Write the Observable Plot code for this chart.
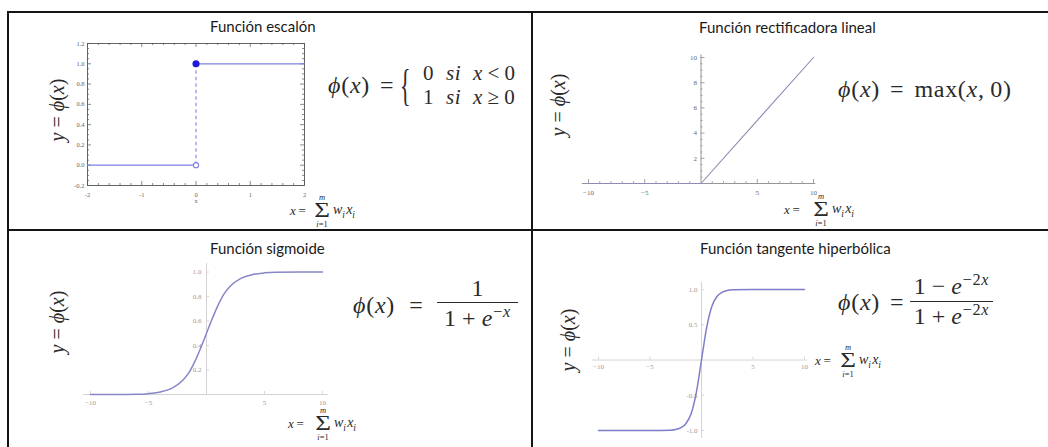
<!DOCTYPE html>
<html><head><meta charset="utf-8">
<script src="https://cdn.jsdelivr.net/npm/d3@7"></script>
<script src="https://cdn.jsdelivr.net/npm/@observablehq/plot@0.6"></script>
<style>
html,body{margin:0;padding:0;background:#fff;}
#root{position:relative;width:1048px;height:447px;overflow:hidden;background:#fff;}
.bd{position:absolute;background:#151515;}
.t{position:absolute;font-family:Lato,"Open Sans",sans-serif;font-size:15px;color:#1a1a1a;white-space:nowrap;line-height:1;}
.m{position:absolute;font-family:"Liberation Serif","DejaVu Serif",serif;color:#2a2a2a;white-space:nowrap;line-height:1;}
.m i{font-style:italic;}
.m sub,.m sup{font-size:0.68em;line-height:0;}
.m sub{margin-right:0.12em;}
.f{letter-spacing:0.03em;}
.op{margin:0 0.42em;}
.opw{margin:0 0.6em;}
.pl{margin:0 0.22em;}
#root svg{position:absolute;}
</style></head>
<body><div id="root">
<div class="bd" style="left:7px;top:11px;width:1041px;height:2px"></div>
<div class="bd" style="left:7px;top:11px;width:2px;height:436px"></div>
<div class="bd" style="left:531px;top:11px;width:2px;height:436px"></div>
<div class="bd" style="left:7px;top:229px;width:1041px;height:2px"></div>
</div>
<script>
// ---------- data ----------
const titles = ["Función escalón", "Función rectificadora lineal", "Función sigmoide", "Función tangente hiperbólica"];

// step function
const stepLowX = [-2, 0], stepLowY = [0, 0];
const stepHighX = [0, 2], stepHighY = [1, 1];
const stepXTicks = [-2, -1, 0, 1, 2];
const stepYTicks = [-0.2, 0, 0.2, 0.4, 0.6, 0.8, 1.0, 1.2];
const stepXLabel = "x";

// rectifier (ReLU)
const reluX = [-10, 0, 10], reluY = [0, 0, 10];
const reluXTicks = [-10, -5, 5, 10];
const reluYTicks = [2, 4, 6, 8, 10];

// sigmoid
const sigX = [-10, -8, -6, -5, -4, -3, -2, -1.5, -1, -0.5, 0, 0.5, 1, 1.5, 2, 3, 4, 5, 6, 8, 10];
const sigY = [0, 0, 0.002, 0.007, 0.02, 0.05, 0.12, 0.18, 0.27, 0.38, 0.5, 0.62, 0.73, 0.82, 0.88, 0.95, 0.98, 0.993, 0.998, 1, 1];
const sigXTicks = [-10, -5, 5, 10];
const sigYTicks = [0.2, 0.4, 0.6, 0.8, 1.0];

// hyperbolic tangent
const tanhX = [-10, -5, -3, -2.5, -2, -1.5, -1, -0.5, 0, 0.5, 1, 1.5, 2, 2.5, 3, 5, 10];
const tanhY = [-1, -1, -0.995, -0.987, -0.96, -0.9, -0.76, -0.46, 0, 0.46, 0.76, 0.9, 0.96, 0.987, 0.995, 1, 1];
const tanhXTicks = [-10, -5, 5, 10];
const tanhYTicks = [-1.0, -0.5, 0.5, 1.0];
const tanhYLabels = ["-1.0", "-0.5", "0.5", "1.0"];

// ---------- helpers ----------
const root = document.getElementById("root");
const FF = "Liberation Serif, DejaVu Serif, serif";
const fmtNum = d => (d < 0 ? "\u2212" + (-d) : String(d));

function put(html, x, y, {size = 21, anchor = "start", extra = "", cls = "m", lh = null} = {}) {
  const d = document.createElement("div");
  d.className = cls;
  d.innerHTML = html;
  d.style.left = x + "px";
  d.style.top = y + "px";
  d.style.fontSize = size + "px";
  if (lh) d.style.lineHeight = lh;
  const tx = anchor === "middle" ? "-50%" : anchor === "end" ? "-100%" : "0";
  d.style.transform = `translate(${tx},-50%) ${extra}`;
  root.appendChild(d);
  return d;
}
function title(text, x, baseline) {
  const d = document.createElement("div");
  d.className = "t";
  d.textContent = text;
  d.style.left = x + "px";
  d.style.top = (baseline - 13.3) + "px";
  root.appendChild(d);
}
function ylab(x, y) {
  put(`<i>y</i> = <i>&#981;</i>(<i>x</i>)`, x, y, {size: 20, anchor: "middle", extra: "rotate(-90deg)"});
}
function bar(x, y, w) {
  const b = document.createElement("div");
  b.className = "bd";
  Object.assign(b.style, {left: x + "px", top: y + "px", width: w + "px", height: "1.2px", background: "#2a2a2a"});
  root.appendChild(b);
}
function sum(xLeft, cy, sx) {
  put(`<i>x</i>&thinsp;=`, xLeft, cy, {size: 13});
  put(`&Sigma;`, sx, cy, {size: 20, anchor: "middle", extra: "scale(1.35,1.05)", lh: 0.62});
  put(`<i>m</i>`, sx, cy - 13.5, {size: 8.5, anchor: "middle"});
  put(`<i>i</i>=1`, sx, cy + 13.5, {size: 8.5, anchor: "middle"});
  put(`<i>w<sub>i</sub>x<sub>i</sub></i>`, sx + 11, cy, {size: 14});
}
const lin = (a, p, v) => p[0] + (v - a[0]) * (p[1] - p[0]) / (a[1] - a[0]);
function scales(c) {
  return {
    kx: (c.xp[1] - c.xp[0]) / (c.xa[1] - c.xa[0]),
    ky: (c.yp[0] - c.yp[1]) / (c.ya[1] - c.ya[0])
  };
}
function mk(box, c, marks) {
  const x0 = lin(c.xa, c.xp, c.xd[0]), x1 = lin(c.xa, c.xp, c.xd[1]);
  const yb = lin(c.ya, c.yp, c.yd[0]), yt = lin(c.ya, c.yp, c.yd[1]);
  const svg = Plot.plot({
    width: box.w, height: box.h,
    marginLeft: x0 - box.x, marginRight: box.x + box.w - x1,
    marginTop: yt - box.y, marginBottom: box.y + box.h - yb,
    x: {domain: c.xd, axis: null},
    y: {domain: c.yd, axis: null},
    style: {background: "transparent", overflow: "visible"},
    marks
  });
  svg.style.left = box.x + "px";
  svg.style.top = box.y + "px";
  root.appendChild(svg);
}

// ---------- panel 1 : step ----------
{
  const c = {xd: [-2, 2], xa: [-2, 2], xp: [87, 304], yd: [-0.2, 1.2], ya: [-0.2, 1.2], yp: [185, 43]};
  const {kx, ky} = scales(c);
  const [X0, X1] = c.xd, [Y0, Y1] = c.yd;
  const fc = "#555";
  const minX = d3.range(-20, 21, 2).map(v => v / 10).filter(v => !stepXTicks.includes(v));
  const minY = d3.range(-4, 25, 1).map(v => v / 20).filter(v => !stepYTicks.some(t => Math.abs(t - v) < 1e-9));
  const tkx = (vals, len) => [
    Plot.ruleX(vals, {x: d => d, y1: Y0, y2: Y0 + len / ky, stroke: fc, strokeWidth: 0.7}),
    Plot.ruleX(vals, {x: d => d, y1: Y1, y2: Y1 - len / ky, stroke: fc, strokeWidth: 0.7})
  ];
  const tky = (vals, len) => [
    Plot.ruleY(vals, {y: d => d, x1: X0, x2: X0 + len / kx, stroke: fc, strokeWidth: 0.7}),
    Plot.ruleY(vals, {y: d => d, x1: X1, x2: X1 - len / kx, stroke: fc, strokeWidth: 0.7})
  ];
  const C = "#8080e2", CD = "#1c1cd8";
  mk({x: 40, y: 33, w: 285, h: 180}, c, [
    Plot.frame({stroke: fc, strokeWidth: 0.9}),
    ...tkx(stepXTicks, 4), ...tkx(minX, 2), ...tky(stepYTicks, 4), ...tky(minY, 2),
    Plot.text(stepXTicks, {x: d => d, y: Y0, dy: 9, text: d => String(d), fontSize: 6.5, fill: "#666", fontFamily: FF}),
    Plot.text([stepXLabel], {x: 0, y: Y0, dy: 15, text: d => d, fontSize: 6.5, fill: "#666", fontFamily: FF}),
    Plot.text(stepYTicks, {x: X0, y: d => d, dx: -3, textAnchor: "end", text: d => d.toFixed(1), fontSize: 6.5, fill: "#666", fontFamily: FF}),
    Plot.lineY(stepLowY, {x: stepLowX, stroke: C, strokeWidth: 1.2}),
    Plot.lineY(stepHighY, {x: stepHighX, stroke: C, strokeWidth: 1.2}),
    Plot.ruleX([stepLowX[1]], {y1: stepLowY[1], y2: stepHighY[0], stroke: C, strokeWidth: 1.1, strokeDasharray: "3.5,3"}),
    Plot.dot([stepLowY[1]], {x: [stepLowX[1]], y: d => d, r: 2.6, fill: "white", stroke: C, strokeWidth: 1.1}),
    Plot.dot([stepHighY[0]], {x: [stepHighX[0]], y: d => d, r: 2.8, fill: CD, stroke: CD})
  ]);
  title(titles[0], 210, 32);
  ylab(57, 110);
  put(`<span class="f"><i>&#981;</i>(<i>x</i>)<span class="op">=</span></span>`, 328, 85, {size: 24});
  put(`{`, 400, 86, {size: 22, extra: "scale(1,2.05)"});
  put(`<span class="f">0&nbsp;&nbsp;<i>si</i>&nbsp;&nbsp;<i>x</i><span class="pl">&lt;</span>0</span>`, 423, 73, {size: 21});
  put(`<span class="f">1&nbsp;&nbsp;<i>si</i>&nbsp;&nbsp;<i>x</i><span class="pl">&ge;</span>0</span>`, 423, 97, {size: 21});
  sum(290, 210, 322);
}

// ---------- panel 2 : ReLU ----------
{
  const c = {xd: [-10.55, 10.2], xa: [-10, 10], xp: [588, 813], yd: [0, 10.2], ya: [0, 10], yp: [183, 57]};
  const {kx, ky} = scales(c);
  const ac = "#8a8a8a";
  const minX = d3.range(-10, 11, 1).filter(v => v !== 0 && !reluXTicks.includes(v));
  const minY = d3.range(1, 21, 1).map(v => v / 2).filter(v => !reluYTicks.includes(v));
  mk({x: 565, y: 45, w: 265, h: 160}, c, [
    Plot.ruleY([0], {stroke: ac, strokeWidth: 0.9}),
    Plot.ruleX([0], {stroke: ac, strokeWidth: 0.9}),
    Plot.ruleX(reluXTicks, {x: d => d, y1: 0, y2: 4 / ky, stroke: ac, strokeWidth: 0.8}),
    Plot.ruleX(minX, {x: d => d, y1: 0, y2: 2 / ky, stroke: ac, strokeWidth: 0.7}),
    Plot.ruleY(reluYTicks, {y: d => d, x1: 0, x2: 4 / kx, stroke: ac, strokeWidth: 0.8}),
    Plot.ruleY(minY, {y: d => d, x1: 0, x2: 2 / kx, stroke: ac, strokeWidth: 0.7}),
    Plot.text(reluXTicks, {x: d => d, y: 0, dy: 9, text: fmtNum, fontSize: 7, fill: "#666", fontFamily: FF}),
    Plot.text(reluYTicks, {x: 0, y: d => d, dx: -4, textAnchor: "end", text: fmtNum, fontSize: 7, fill: "#666", fontFamily: FF}),
    Plot.lineY(reluY, {x: reluX, stroke: "#8c8cb4", strokeWidth: 1.1})
  ]);
  title(titles[1], 699, 33);
  ylab(558, 105);
  put(`<span class="f"><i>&#981;</i>(<i>x</i>)<span class="op">=</span>max(<i>x</i>,&thinsp;0)</span>`, 838, 89, {size: 24});
  sum(784, 209, 821);
}

// ---------- panel 3 : sigmoid ----------
{
  const c = {xd: [-10.6, 10.5], xa: [-10, 10], xp: [90, 322], yd: [0, 1.07], ya: [0, 1], yp: [394, 271.5]};
  const {kx, ky} = scales(c);
  const ac = "#cfcfcf";
  mk({x: 60, y: 255, w: 290, h: 165}, c, [
    Plot.ruleY([0], {stroke: ac, strokeWidth: 0.9}),
    Plot.ruleX([0], {stroke: ac, strokeWidth: 0.9}),
    Plot.ruleX(sigXTicks, {x: d => d, y1: 0, y2: 3 / ky, stroke: ac, strokeWidth: 0.8}),
    Plot.ruleY(sigYTicks, {y: d => d, x1: 0, x2: 3 / kx, stroke: ac, strokeWidth: 0.8}),
    Plot.text(sigXTicks, {x: d => d, y: 0, dy: 8, text: fmtNum, fontSize: 7, fill: "#9a9a9a", fontFamily: FF}),
    Plot.text(sigYTicks, {x: 0, y: d => d, dx: -5, textAnchor: "end", text: d => d.toFixed(1), fontSize: 7, fill: "#9a9a9a", fontFamily: FF}),
    Plot.lineY(sigY, {x: sigX, curve: "monotone-x", stroke: "#8686c8", strokeWidth: 1.5})
  ]);
  title(titles[2], 210, 254);
  ylab(57, 322);
  put(`<span class="f"><i>&#981;</i>(<i>x</i>)<span class="opw">=</span></span>`, 353, 305, {size: 24});
  put(`1`, 477.5, 288, {size: 24, anchor: "middle"});
  put(`<span class="f">1<span class="pl">+</span><i>e</i><sup>&minus;<i>x</i></sup></span>`, 477.5, 318, {size: 24, anchor: "middle"});
  bar(437, 301.5, 81);
  sum(288, 423, 323);
}

// ---------- panel 4 : tanh ----------
{
  const c = {xd: [-10.6, 10.3], xa: [-10, 10], xp: [598, 804], yd: [-1.11, 1.1], ya: [-1, 1], yp: [430, 289]};
  const {kx, ky} = scales(c);
  const ac = "#cfcfcf";
  mk({x: 580, y: 272, w: 240, h: 175}, c, [
    Plot.ruleY([0], {stroke: ac, strokeWidth: 0.9}),
    Plot.ruleX([0], {stroke: ac, strokeWidth: 0.9}),
    Plot.ruleX(tanhXTicks, {x: d => d, y1: 0, y2: 3 / ky, stroke: ac, strokeWidth: 0.8}),
    Plot.ruleY(tanhYTicks, {y: d => d, x1: 0, x2: 3 / kx, stroke: ac, strokeWidth: 0.8}),
    Plot.text(tanhXTicks, {x: d => d, y: 0, dy: 7, text: fmtNum, fontSize: 7, fill: "#9a9a9a", fontFamily: FF}),
    Plot.text(tanhYTicks, {x: 0, y: d => d, dx: -4, textAnchor: "end", text: (d, i) => tanhYLabels[i], fontSize: 7, fill: "#9a9a9a", fontFamily: FF}),
    Plot.lineY(tanhY, {x: tanhX, curve: "monotone-x", stroke: "#7e7ec8", strokeWidth: 1.5})
  ]);
  title(titles[3], 700, 254);
  ylab(568, 340);
  put(`<span class="f"><i>&#981;</i>(<i>x</i>)<span class="op">=</span></span>`, 838, 302, {size: 24});
  put(`<span class="f">1<span class="pl">&minus;</span><i>e</i><sup>&minus;2<i>x</i></sup></span>`, 951.5, 286, {size: 24, anchor: "middle"});
  put(`<span class="f">1<span class="pl">+</span><i>e</i><sup>&minus;2<i>x</i></sup></span>`, 951.5, 316, {size: 24, anchor: "middle"});
  bar(910, 300.5, 83);
  sum(815, 360, 848);
}
</script></body></html>
